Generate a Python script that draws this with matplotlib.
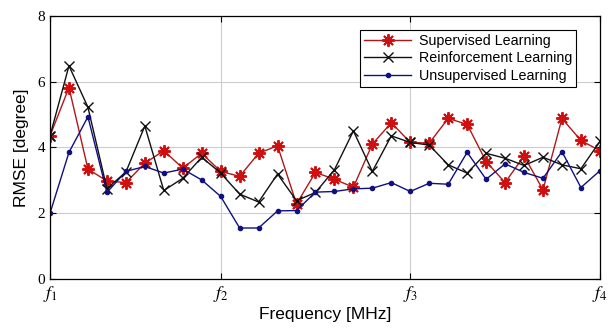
import matplotlib
matplotlib.use("Agg")
from matplotlib import pyplot as plt

# sample index along the band, f1..f4 marked at indices 0, 9, 19, 29
idx = list(range(30))
freq_ticks = [0, 9, 19, 29]
freq_labels = [r"$f_1$", r"$f_2$", r"$f_3$", r"$f_4$"]

supervised = [4.35, 5.82, 3.34, 2.98, 2.93, 3.52, 3.90, 3.37, 3.82, 3.27,
              3.12, 3.82, 4.05, 2.28, 3.24, 3.03, 2.79, 4.10, 4.75, 4.15,
              4.13, 4.88, 4.70, 3.57, 2.93, 3.74, 2.71, 4.88, 4.21, 3.90]
reinforcement = [4.35, 6.48, 5.22, 2.75, 3.25, 4.65, 2.69, 3.06, 3.70, 3.22,
                 2.58, 2.34, 3.19, 2.38, 2.63, 3.32, 4.50, 3.27, 4.35, 4.15,
                 4.07, 3.47, 3.22, 3.82, 3.67, 3.45, 3.70, 3.47, 3.35, 4.18]
unsupervised = [2.00, 3.85, 4.93, 2.63, 3.27, 3.42, 3.22, 3.34, 3.01, 2.51,
                1.55, 1.55, 2.07, 2.08, 2.64, 2.66, 2.74, 2.76, 2.93, 2.66,
                2.91, 2.88, 3.85, 3.03, 3.50, 3.24, 3.06, 3.87, 2.78, 3.29]

plt.rcParams["mathtext.fontset"] = "stix"

fig = plt.figure(figsize=(6.13, 3.29), dpi=100)
ax = fig.add_axes([0.0816, 0.152, 0.897, 0.80])

# matlab-style asterisk: 8 spokes
ax.plot(idx, supervised, color="#b01818", marker=(8, 2, 0), markersize=9,
        markeredgecolor="#d01010", markeredgewidth=1.4, lw=1.0,
        label="Supervised Learning")
ax.plot(idx, reinforcement, color="#111111", marker="x", markersize=7,
        markeredgewidth=1.0, lw=1.0, label="Reinforcement Learning")
ax.plot(idx, unsupervised, color="#101080", marker=".", markersize=6,
        lw=1.0, label="Unsupervised Learning")

ax.set_xlim(0, 29)
ax.set_ylim(0, 8)
ax.set_xticks(freq_ticks)
ax.set_xticklabels(freq_labels, fontsize=13)
ax.set_yticks([0, 2, 4, 6, 8])
ax.set_yticklabels(["0", "2", "4", "6", "8"], family="Liberation Serif", fontsize=11)
ax.tick_params(direction="in", length=4, width=0.8, top=True, right=True)
ax.grid(True, color="#cccccc", lw=0.8)
for s in ax.spines.values():
    s.set_linewidth(0.9)

ax.set_xlabel("Frequency [MHz]", family="Liberation Sans", fontsize=12.5, labelpad=2)
ax.set_ylabel("RMSE [degree]", family="Liberation Sans", fontsize=12.5, labelpad=6)

leg = ax.legend(loc="upper right", bbox_to_anchor=(0.97, 0.975),
                prop={"family": "Liberation Sans", "size": 10.3},
                fancybox=False, edgecolor="black", framealpha=1,
                handlelength=3.3, borderpad=0.3, labelspacing=0.25,
                handletextpad=0.5)
leg.get_frame().set_linewidth(0.8)

fig.savefig("out.png", dpi=100)
